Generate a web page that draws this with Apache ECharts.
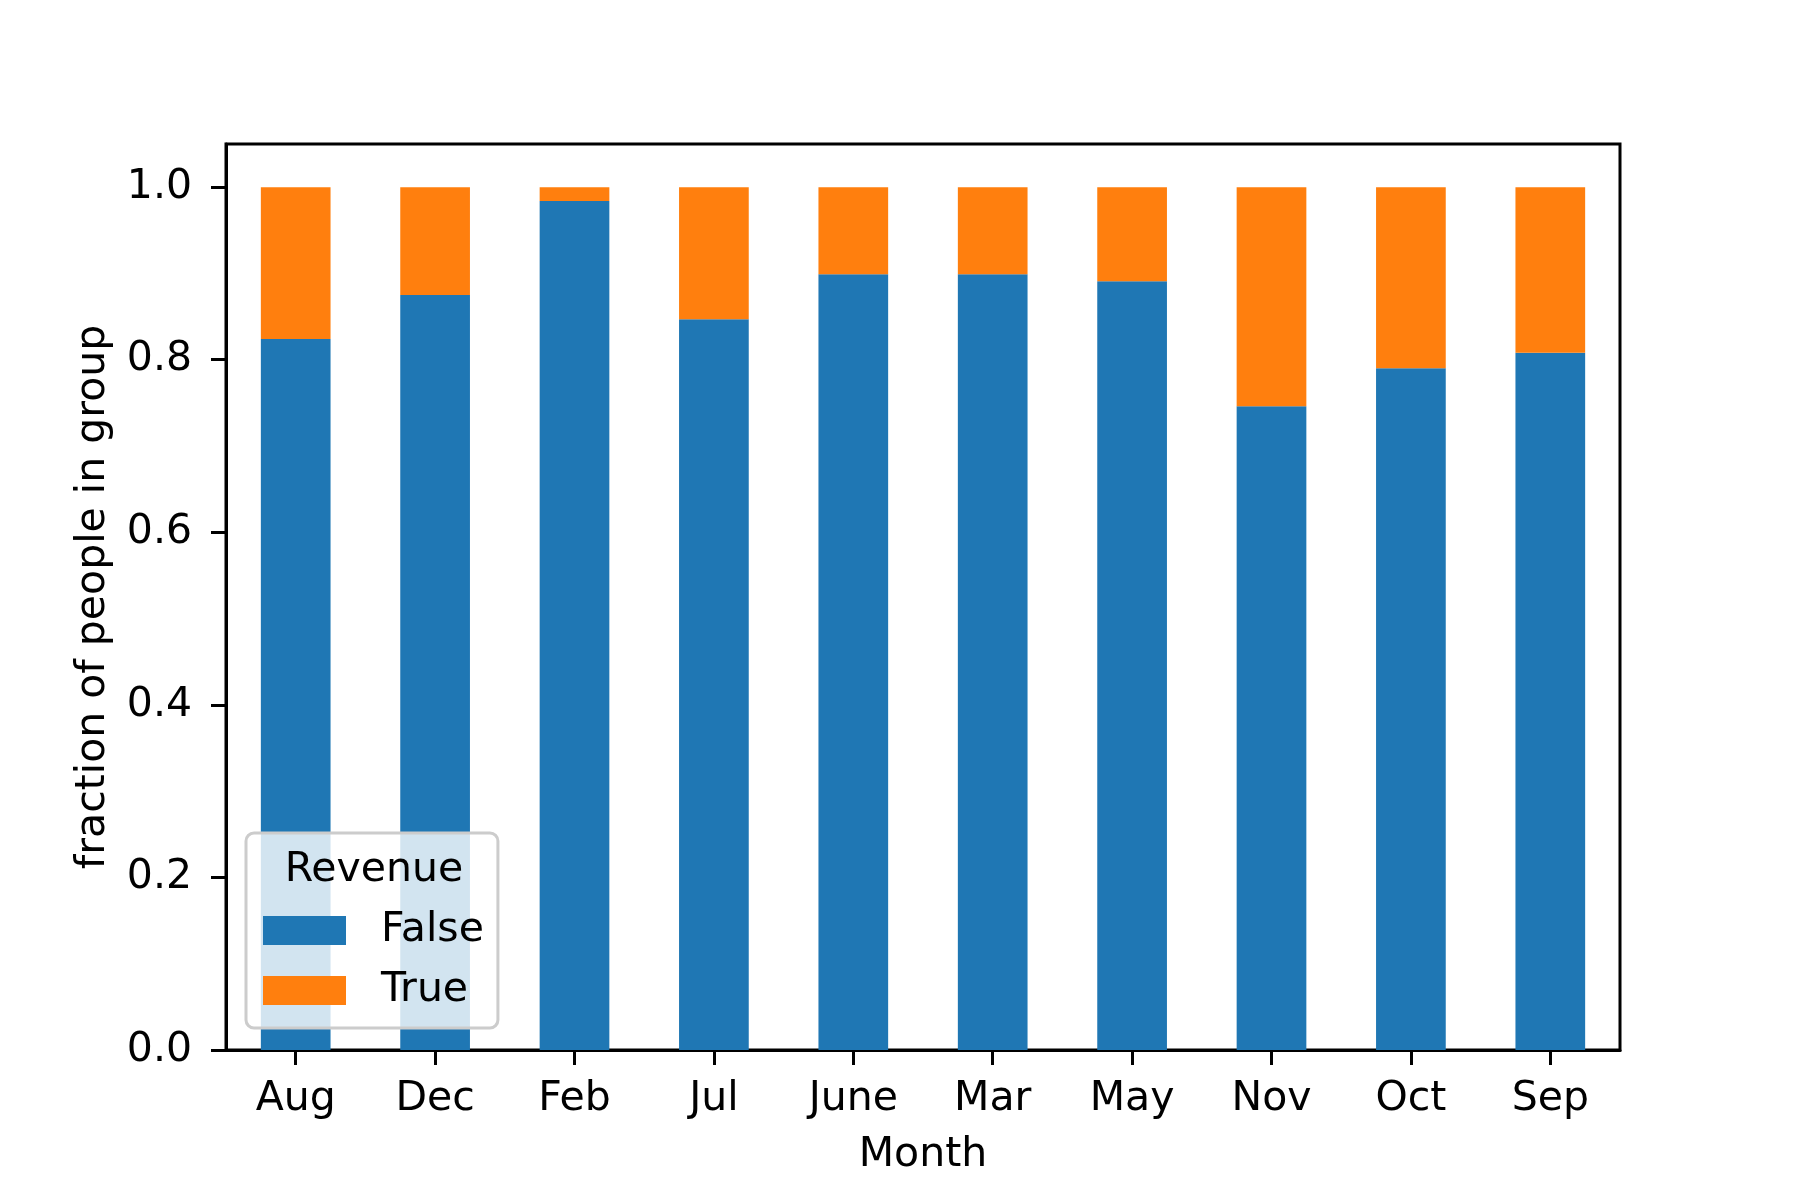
<!DOCTYPE html>
<html>
<head>
<meta charset="utf-8">
<title>fraction of people in group by Month</title>
<script src="https://cdn.jsdelivr.net/npm/echarts@6/dist/echarts.min.js"></script>
<style>
  html, body { margin: 0; padding: 0; background: #fff; }
  #main { width: 1800px; height: 1200px; }
</style>
</head>
<body>
<div id="main"></div>
<script>
// data
const months = ["Aug", "Dec", "Feb", "Jul", "June", "Mar", "May", "Nov", "Oct", "Sep"];
const revenueFalse = [0.824, 0.875, 0.984, 0.847, 0.899, 0.899, 0.891, 0.746, 0.790, 0.808];
const revenueTrue = [0.176, 0.125, 0.016, 0.153, 0.101, 0.101, 0.109, 0.254, 0.210, 0.192];
const yTicks = [0, 0.2, 0.4, 0.6, 0.8, 1.0];

const font = "DejaVu Sans";
const fs = 41;

var chartDom = document.getElementById("main");
var myChart = echarts.init(chartDom, null, { renderer: "canvas" });

const option = {
  animation: false,
  backgroundColor: "#fff",
  textStyle: { fontFamily: font },
  grid: {
    left: 226,
    right: 180,
    top: 144,
    bottom: 150,
    show: true,
    borderColor: "#000",
    borderWidth: 3,
    containLabel: false
  },
  legend: {
    orient: "vertical",
    left: 246,
    top: 833,
    padding: [77, 14, 17, 17],
    itemWidth: 83,
    itemHeight: 29,
    itemGap: 19,
    backgroundColor: "rgba(255,255,255,0.8)",
    borderColor: "#cccccc",
    borderWidth: 3,
    borderRadius: 8,
    icon: "rect",
    z: 10,
    textStyle: {
      fontFamily: font,
      fontSize: fs,
      lineHeight: 41,
      color: "#000",
      padding: [0, 0, 0, 30]
    },
    data: ["False", "True"]
  },
  graphic: [
    {
      type: "text",
      x: 374,
      y: 870,
      z: 20,
      style: {
        text: "Revenue",
        font: fs + "px '" + font + "'",
        fill: "#000",
        textAlign: "center",
        textVerticalAlign: "middle"
      }
    }
  ],
  xAxis: {
    type: "category",
    data: months,
    name: "Month",
    nameLocation: "middle",
    nameGap: 85,
    nameTextStyle: { fontFamily: font, fontSize: fs, color: "#000" },
    axisLine: { show: true, lineStyle: { color: "#000", width: 3 } },
    axisTick: { show: true, alignWithLabel: true, length: 15, lineStyle: { color: "#000", width: 3 } },
    axisLabel: { fontFamily: font, fontSize: fs, color: "#000", margin: 29 },
    splitLine: { show: false }
  },
  yAxis: {
    type: "value",
    min: 0,
    max: 1.05,
    interval: 0.2,
    name: "fraction of people in group",
    nameLocation: "middle",
    nameGap: 112,
    nameTextStyle: { fontFamily: font, fontSize: fs, color: "#000" },
    axisLine: { show: true, lineStyle: { color: "#000", width: 3 } },
    axisTick: {
      show: true,
      length: 15,
      customValues: yTicks,
      lineStyle: { color: "#000", width: 3 }
    },
    axisLabel: {
      fontFamily: font,
      fontSize: fs,
      color: "#000",
      margin: 34,
      customValues: yTicks,
      formatter: function (v) { return v.toFixed(1); }
    },
    splitLine: { show: false }
  },
  series: [
    {
      name: "False",
      type: "bar",
      stack: "rev",
      barWidth: "50%",
      itemStyle: { color: "#1f77b4" },
      data: revenueFalse
    },
    {
      name: "True",
      type: "bar",
      stack: "rev",
      barWidth: "50%",
      itemStyle: { color: "#ff7f0e" },
      data: revenueTrue
    }
  ]
};

myChart.setOption(option);
</script>
</body>
</html>
